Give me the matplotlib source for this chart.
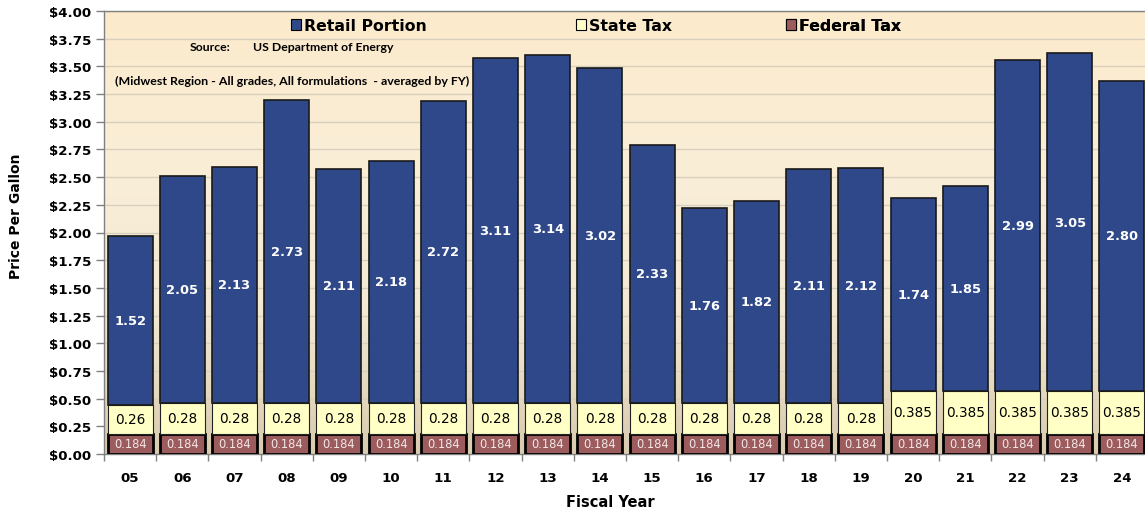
import matplotlib
matplotlib.use('Agg')
import matplotlib.pyplot as plt
import numpy as np
from matplotlib.colors import LinearSegmentedColormap
from matplotlib.patches import Patch

# ---- data: Midwest gasoline price per gallon, averaged by fiscal year ----
years = ['05', '06', '07', '08', '09', '10', '11', '12', '13', '14',
         '15', '16', '17', '18', '19', '20', '21', '22', '23', '24']
federal_tax = [0.184] * 20
state_tax = [0.26] + [0.28] * 14 + [0.385] * 5
retail = [1.52, 2.05, 2.13, 2.73, 2.11, 2.18, 2.72, 3.11, 3.14, 3.02,
          2.33, 1.76, 1.82, 2.11, 2.12, 1.74, 1.85, 2.99, 3.05, 2.80]
yticks = np.arange(0, 4.01, 0.25)

c_retail = '#2f4889'
c_state = '#ffffc6'
c_fed = '#9c5c5e'

W, H = 1145, 510
fig = plt.figure(figsize=(W / 100, H / 100), dpi=100)
fig.patch.set_facecolor('white')
ax = fig.add_axes([104 / W, (H - 455) / H, 1044 / W, 443 / H])

# plot area background gradient
bg = LinearSegmentedColormap.from_list('bg', ['#d9cbae', '#f3ead5', '#faeed7', '#fceacb'])
grad = np.linspace(0, 1, 256).reshape(-1, 1)
ax.imshow(grad, cmap=bg, extent=[0, 1, 0, 1], transform=ax.transAxes,
          aspect='auto', origin='lower', zorder=0)

x = np.arange(len(years))
fed = np.array(federal_tax)
st = np.array(state_tax)
rt = np.array(retail)
bw = 0.86

ax.bar(x, fed, bw, color=c_fed, edgecolor='black', linewidth=2, zorder=3)
ax.bar(x, st, bw, bottom=fed, color=c_state, edgecolor='#222222', linewidth=0.8, zorder=3)
ax.bar(x, rt, bw, bottom=fed + st, color=c_retail, edgecolor='#1a1a1a', linewidth=1.2, zorder=3)

for i in range(len(years)):
    ax.text(x[i], fed[i] / 2, '%.3f' % fed[i], ha='center', va='center',
            fontsize=8.3, color='#f3e6e6', zorder=4)
    ax.text(x[i], fed[i] + st[i] / 2, ('%g' % st[i]), ha='center', va='center',
            fontsize=9.8, color='black', zorder=4)
    ax.text(x[i], fed[i] + st[i] + rt[i] / 2, '%.2f' % rt[i], ha='center', va='center',
            fontsize=9.4, fontweight='bold', color='white', zorder=4)

ax.set_xlim(-0.5, len(years) - 0.5)
ax.set_ylim(0, 4.0)
ax.set_yticks(yticks)
ax.set_yticklabels(['$%.2f' % v for v in yticks])
ax.set_xticks(x)
ax.set_xticklabels(years)
ax.set_xticks(np.arange(-0.5, len(years), 1), minor=True)
ax.grid(axis='y', color='#d8d0bf', linewidth=1, zorder=1)
ax.set_axisbelow(True)

ax.tick_params(axis='y', length=6, width=1, color='#808080', pad=3, labelsize=9.6)
ax.tick_params(axis='x', which='major', length=0, pad=12, labelsize=9.6)
ax.tick_params(axis='x', which='minor', length=5, width=1, color='#808080')
for lab in ax.get_yticklabels() + ax.get_xticklabels():
    lab.set_fontweight('bold')

for s in ['left', 'top', 'bottom']:
    ax.spines[s].set_color('#808080')
    ax.spines[s].set_linewidth(1)
ax.spines['right'].set_visible(False)

ax.set_ylabel('Price Per Gallon', fontsize=10, fontweight='bold')
ax.yaxis.set_label_coords((23 - 104) / 1044, 0.54)
ax.set_xlabel('Fiscal Year', fontsize=10.5, fontweight='bold')
ax.xaxis.set_label_coords(0.485, -0.09)

# legend entries placed one by one along the top of the plot area
names = ['Retail Portion', 'State Tax', 'Federal Tax']
colors = [c_retail, c_state, c_fed]
starts = [291, 576, 786]
for name, col, px in zip(names, colors, starts):
    leg = ax.legend([Patch(facecolor=col, edgecolor='black', linewidth=0.8)], [name],
                    loc='upper left', bbox_to_anchor=((px - 104) / 1044, (455 - 19) / 443),
                    frameon=False, prop={'size': 11.3, 'weight': 'bold'},
                    handlelength=0.65, handleheight=0.65, handletextpad=0.2,
                    borderaxespad=0, borderpad=0)
    ax.add_artist(leg)

ax.text((190 - 104) / 1044, (455 - 48) / 443, 'Source:', transform=ax.transAxes,
        ha='left', va='center', fontsize=8.8, fontweight='bold', family='Lato')
ax.text((253 - 104) / 1044, (455 - 48) / 443, 'US Department of Energy', transform=ax.transAxes,
        ha='left', va='center', fontsize=8.8, fontweight='bold', family='Lato')
ax.text((115 - 104) / 1044, (455 - 81) / 443,
        '(Midwest Region - All grades, All formulations  - averaged by FY)',
        transform=ax.transAxes, ha='left', va='center', fontsize=8.9,
        fontweight='bold', family='Lato')

fig.savefig('out.png', dpi=100)
